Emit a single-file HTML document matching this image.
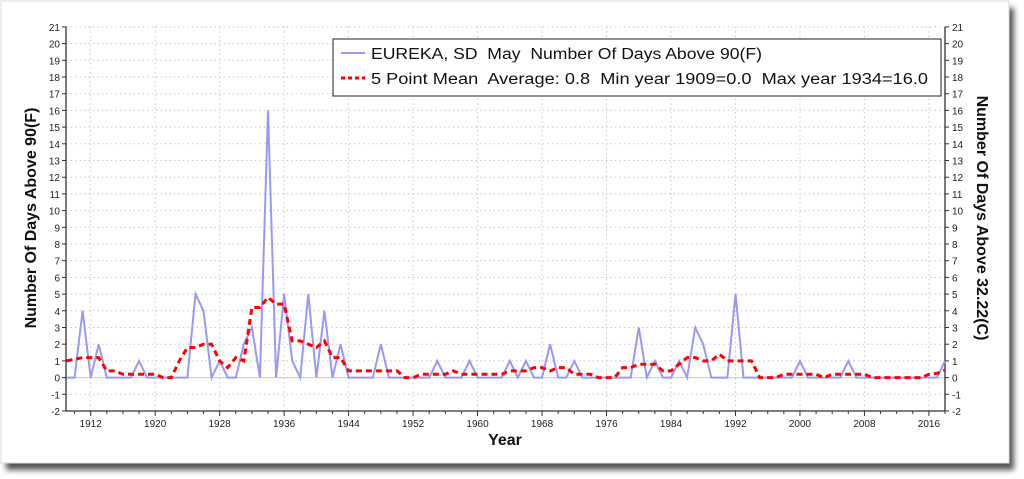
<!DOCTYPE html>
<html><head><meta charset="utf-8"><style>
html,body{margin:0;padding:0;background:#fff;}
svg{display:block;font-family:"Liberation Sans",sans-serif;}
</style></head><body>
<svg id="s" width="1024" height="479" xmlns="http://www.w3.org/2000/svg">
<defs><filter id="sh" x="-5%" y="-5%" width="110%" height="115%"><feGaussianBlur stdDeviation="3"/></filter></defs>
<rect x="6" y="8" width="1008" height="462" fill="#555" filter="url(#sh)"/>
<rect x="1" y="1" width="1008" height="462" fill="#fff" stroke="#ddd"/>
<g id="g"></g>
</svg>
<script>
const NS="http://www.w3.org/2000/svg";const g=document.getElementById('g');
function el(t,a,txt){const e=document.createElementNS(NS,t);for(const k in a)e.setAttribute(k,a[k]);if(txt!==undefined)e.textContent=txt;g.appendChild(e);return e;}
const L=66,R=945,T=26.7,B=411;
const X=y=>66.5+(y-1909)*8.06, Y=v=>377.6-v*16.7;
for(let v=-2;v<=21;v++){ if(v!==0&&v!==-2) el('line',{x1:L,x2:R,y1:Y(v),y2:Y(v),stroke:'#c8c8c8','stroke-dasharray':'1.5,3'});
 el('line',{x1:L-4,x2:L,y1:Y(v),y2:Y(v),stroke:'#333'});el('line',{x1:R,x2:R+4,y1:Y(v),y2:Y(v),stroke:'#333'});
 el('text',{x:L-6,y:Y(v)+4,'font-size':10,'text-anchor':'end',fill:'#222'},v);
 el('text',{x:R+7,y:Y(v)+4,'font-size':10,fill:'#222'},v);}
el('line',{x1:L,x2:R,y1:Y(0),y2:Y(0),stroke:'#d0d0d0','stroke-width':1.2});
for(let yr=1910;yr<=2018;yr+=2){const x=X(yr);
 if(yr%8==0){el('line',{x1:x,x2:x,y1:T,y2:B,stroke:'#c8c8c8','stroke-dasharray':'1.5,3'});
  el('line',{x1:x,x2:x,y1:B,y2:B+5,stroke:'#333'});el('text',{x:x,y:B+16,'font-size':10,'text-anchor':'middle',fill:'#222'},yr);}
 else el('line',{x1:x,x2:x,y1:B,y2:B+3,stroke:'#333'});}
el('line',{x1:L,x2:L,y1:T,y2:B,stroke:'#333','stroke-width':1.3});
el('line',{x1:R,x2:R,y1:T,y2:B,stroke:'#333','stroke-width':1.3});
el('line',{x1:L,x2:R,y1:B,y2:B,stroke:'#333','stroke-width':1.3});
const d={};for(let y=1909;y<=2018;y++)d[y]=0;
Object.assign(d,{1911:4,1913:2,1918:1,1925:5,1926:4,1928:1,1931:2,1932:3,1934:16,1936:5,1937:1,1939:5,1941:4,1943:2,1948:2,1955:1,1959:1,1964:1,1966:1,1969:2,1972:1,1980:3,1982:1,1985:1,1987:3,1988:2,1992:5,2000:1,2006:1,2018:1});
let p='';for(let y=1909;y<=2018;y++)p+=(p?'L':'M')+X(y).toFixed(1)+','+Y(d[y]).toFixed(1);
el('path',{d:p,fill:'none',stroke:'#9999f5','stroke-width':2});
let m='';for(let y=1909;y<=2018;y++){let s=0,n=0;for(let k=y-2;k<=y+2;k++)if(d[k]!==undefined){s+=d[k];n++;}
 let v=s/n;if(y==1909)v=1.0;if(y==1910)v=1.1;if(y==2018)v=0.45;
 m+=(m?'L':'M')+X(y).toFixed(1)+','+Y(v).toFixed(1);}
el('path',{d:m,fill:'none',stroke:'#ff0000','stroke-width':3,'stroke-dasharray':'6,4'});
el('rect',{x:333,y:39,width:608,height:57,fill:'#fff',stroke:'#222'});
el('line',{x1:341,x2:365,y1:53,y2:53,stroke:'#9999f5','stroke-width':2});
el('line',{x1:341,x2:365,y1:78,y2:78,stroke:'#ff0000','stroke-width':3,'stroke-dasharray':'4,3'});
let t1=el('text',{x:371,y:59,'font-size':15.5,fill:'#111',textLength:391,lengthAdjust:'spacingAndGlyphs'},'EUREKA, SD  May  Number Of Days Above 90(F)');t1.style.whiteSpace='pre';
let t2=el('text',{x:371,y:84,'font-size':15.5,fill:'#111',textLength:557,lengthAdjust:'spacingAndGlyphs'},'5 Point Mean  Average: 0.8  Min year 1909=0.0  Max year 1934=16.0');t2.style.whiteSpace='pre';
el('text',{x:505,y:445,'font-size':16,'font-weight':'bold','text-anchor':'middle',fill:'#111'},'Year');
el('text',{x:0,y:0,'font-size':16,'font-weight':'bold','text-anchor':'middle',fill:'#111',transform:'translate(36,218) rotate(-90)'},'Number Of Days Above 90(F)');
el('text',{x:0,y:0,'font-size':16,'font-weight':'bold','text-anchor':'middle',fill:'#111',transform:'translate(977,218) rotate(90)'},'Number Of Days Above 32.22(C)');
</script>
</body></html>
